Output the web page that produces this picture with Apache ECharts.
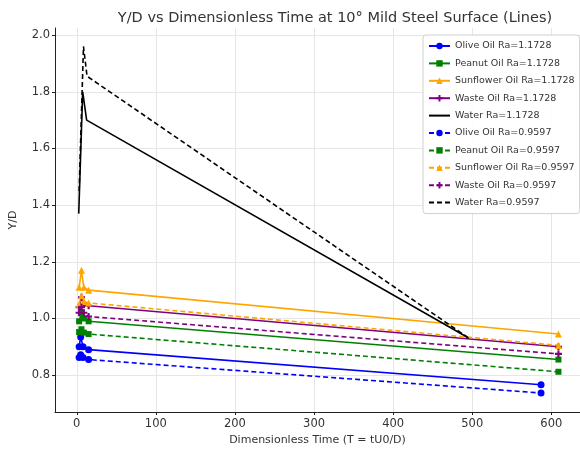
<!DOCTYPE html>
<html>
<head>
<meta charset="utf-8">
<script src="https://cdn.jsdelivr.net/npm/echarts@6/dist/echarts.min.js"></script>
<style>html,body{margin:0;padding:0;background:#fff}#c{width:580px;height:452px}</style>
</head>
<body>
<div id="c"></div>
<script>
// ---- data ----
const xTicks = [0, 100, 200, 300, 400, 500, 600];
const yTicks = [0.8, 1.0, 1.2, 1.4, 1.6, 1.8, 2.0];

const oliveX = [3, 5, 8, 15, 587];
const oilX = [3, 6, 9, 15, 609];
const waterX1 = [2.5, 7.5, 12.5, 496];
const waterX2 = [3, 8.5, 13, 496];

const olive1 = [0.90, 0.935, 0.90, 0.89, 0.766];
const peanut1 = [0.99, 1.02, 1.00, 0.99, 0.855];
const sunflower1 = [1.11, 1.17, 1.11, 1.10, 0.945];
const waste1 = [1.04, 1.075, 1.05, 1.045, 0.90];
const water1 = [1.37, 1.80, 1.70, 0.93];

const olive2 = [0.862, 0.872, 0.862, 0.855, 0.737];
const peanut2 = [0.952, 0.962, 0.95, 0.945, 0.812];
const sunflower2 = [1.05, 1.08, 1.06, 1.055, 0.905];
const waste2 = [1.02, 1.04, 1.02, 1.007, 0.875];
const water2 = [1.45, 1.96, 1.855, 0.93];

const names = [
  'Olive Oil Ra=1.1728', 'Peanut Oil Ra=1.1728', 'Sunflower Oil Ra=1.1728', 'Waste Oil Ra=1.1728', 'Water Ra=1.1728',
  'Olive Oil Ra=0.9597', 'Peanut Oil Ra=0.9597', 'Sunflower Oil Ra=0.9597', 'Waste Oil Ra=0.9597', 'Water Ra=0.9597'
];

const pair = (xs, ys) => xs.map((x, i) => [x, ys[i]]);
const plus = 'path://M3.5,0h3v3.5h3.5v3h-3.5v3.5h-3v-3.5h-3.5v-3h3.5z';

function mk(name, xs, ys, color, symbol, dashed, size) {
  return {
    name, type: 'line', data: pair(xs, ys),
    symbol: symbol || 'none', symbolSize: size || 6, showSymbol: !!symbol,
    lineStyle: { color, width: 1.6, type: dashed ? [5, 3] : 'solid' },
    itemStyle: { color },
    emphasis: { disabled: true },
    animation: false, z: 3
  };
}

const series = [
  mk(names[0], oliveX, olive1, '#0000ff', 'circle', false, 7),
  mk(names[1], oilX, peanut1, '#008000', 'rect', false, 6),
  mk(names[2], oilX, sunflower1, '#ffa500', 'triangle', false, 7),
  mk(names[3], oilX, waste1, '#800080', plus, false, 7),
  mk(names[4], waterX1, water1, '#000000', null, false),
  mk(names[5], oliveX, olive2, '#0000ff', 'circle', true, 7),
  mk(names[6], oilX, peanut2, '#008000', 'rect', true, 6),
  mk(names[7], oilX, sunflower2, '#ffa500', 'triangle', true, 7),
  mk(names[8], oilX, waste2, '#800080', plus, true, 7),
  mk(names[9], waterX2, water2, '#000000', null, true)
];

const legendData = names.map(n => n.startsWith('Water')
  ? { name: n, itemStyle: { opacity: 0 } }
  : { name: n });

const font = 'DejaVu Sans';
const chart = echarts.init(document.getElementById('c'), null, { renderer: 'canvas' });
chart.setOption({
  backgroundColor: '#fff',
  animation: false,
  textStyle: { fontFamily: font },
  title: {
    text: 'Y/D vs Dimensionless Time at 10° Mild Steel Surface (Lines)',
    left: 330, top: 6, textAlign: 'center',
    textStyle: { fontFamily: font, fontSize: 14.5, fontWeight: 'normal', color: '#333' }
  },
  grid: { left: 49, right: 0, top: 28, bottom: 40, containLabel: false },
  xAxis: {
    type: 'value', min: -27.5, max: 636.25,
    name: 'Dimensionless Time (T = tU0/D)', nameLocation: 'middle', nameGap: 22,
    nameTextStyle: { fontFamily: font, fontSize: 11, color: '#333' },
    axisLine: { show: true, onZero: false, lineStyle: { color: '#222', width: 1 } },
    axisTick: { show: true, length: 3, customValues: xTicks, lineStyle: { color: '#222' } },
    axisLabel: { customValues: xTicks, fontFamily: font, fontSize: 11.5, color: '#333', margin: 6 },
    splitLine: { show: true, customValues: xTicks, lineStyle: { color: '#e6e6e6', width: 1 } }
  },
  yAxis: {
    type: 'value', min: 0.67, max: 2.025,
    name: 'Y/D', nameLocation: 'middle', nameGap: 36, nameRotate: 90,
    nameTextStyle: { fontFamily: font, fontSize: 11, color: '#333' },
    axisLine: { show: true, onZero: false, lineStyle: { color: '#222', width: 1 } },
    axisTick: { show: true, length: 3, customValues: yTicks, lineStyle: { color: '#222' } },
    axisLabel: { customValues: yTicks, fontFamily: font, fontSize: 11.5, color: '#333', margin: 5,
      formatter: v => v.toFixed(1) },
    splitLine: { show: true, customValues: yTicks, lineStyle: { color: '#e6e6e6', width: 1 } }
  },
  legend: {
    data: legendData, orient: 'vertical', left: 423, top: 35,
    padding: [5, 5, 5, 5], itemWidth: 21, itemHeight: 8, itemGap: 5.4,
    backgroundColor: 'rgba(255,255,255,0.9)', borderColor: '#d0d0d0', borderWidth: 1, borderRadius: 3,
    textStyle: { fontFamily: font, fontSize: 9.5, color: '#333', lineHeight: 12 },
    selectedMode: false
  },
  series
});
</script>
</body>
</html>
